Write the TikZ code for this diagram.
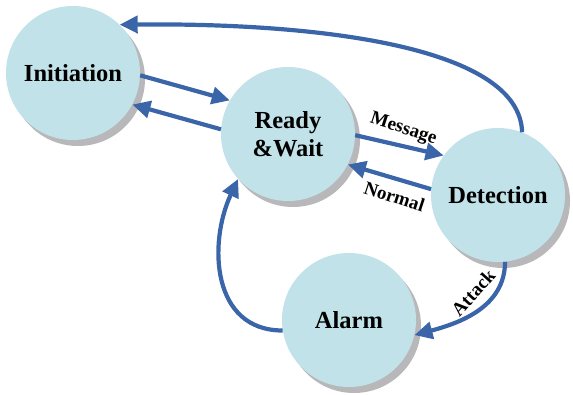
\documentclass[tikz,border=0pt]{standalone}
\usepackage{fontspec}
\setmainfont{Liberation Serif}
\usetikzlibrary{arrows.meta, shadows}
\definecolor{statefill}{RGB}{192,226,232}
\definecolor{arrowblue}{RGB}{58,101,168}
\definecolor{shadowgray}{RGB}{184,184,186}

\begin{document}
\begin{tikzpicture}[
  x=1pt, y=1pt,
  state/.style={circle, fill=statefill, minimum size=134pt, inner sep=0pt, align=center,
    font=\fontsize{24.5}{28}\selectfont\bfseries,
    drop shadow={shadow xshift=5pt, shadow yshift=-6pt, fill=shadowgray, opacity=1}},
  arr/.style={-{Triangle[length=18pt, width=17pt]}, line width=4.2pt, arrowblue},
  lab/.style={font=\fontsize{19}{22}\selectfont\bfseries, text=black, inner sep=2pt},
]
\useasboundingbox (0,0) rectangle (573,394);
% states
\node[state] (init) at (73,321) {Initiation};
\node[state] (ready) at (288,260) {Ready\\\&Wait};
\node[state] (det) at (498,199) {Detection};
\node[state] (alarm) at (349,74) {Alarm};

% transitions between states
\draw[arr] (init.-2) -- (ready.150);
\draw[arr] (ready.176) -- (init.-28);
\draw[arr] (ready.-1) -- (det.144) node[lab, midway, above=4pt, rotate=-18] {Message};
\draw[arr] (det.175) -- (ready.-27) node[lab, pos=0.4, below=7pt, rotate=-18] {Normal};
\draw[arr] (det.69) .. controls +(-2,83) and +(210,2) .. (init.46);
\draw[arr] (det.-84) to[out=-90, in=15] node[lab, pos=0.45, above=8pt, rotate=48] {Attack} (alarm.-13);
\draw[arr] (alarm.189) to[out=180, in=-115, looseness=1.15] (ready.222);
\end{tikzpicture}
\end{document}
